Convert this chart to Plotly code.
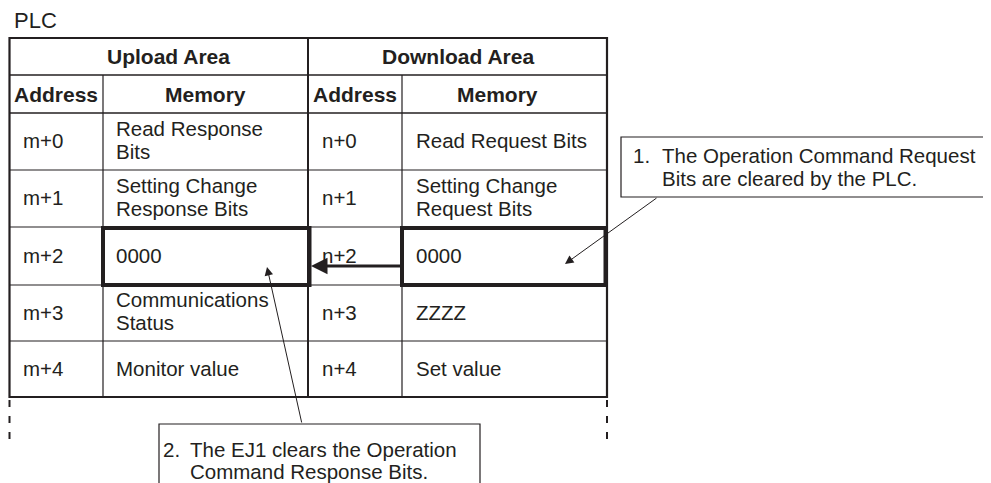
import plotly.graph_objects as go

# ---------------- data ----------------
title_text = "PLC"
area_headers = ["Upload Area", "Download Area"]
column_headers = ["Address", "Memory", "Address", "Memory"]
upload_addresses = ["m+0", "m+1", "m+2", "m+3", "m+4"]
upload_memory = [["Read Response", "Bits"], ["Setting Change", "Response Bits"],
                 ["0000"], ["Communications", "Status"], ["Monitor value"]]
download_addresses = ["n+0", "n+1", "n+2", "n+3", "n+4"]
download_memory = [["Read Request Bits"], ["Setting Change", "Request Bits"],
                   ["0000"], ["ZZZZ"], ["Set value"]]
highlight_row = 2
note1_lines = ["1.", "The Operation Command Request", "Bits are cleared by the PLC."]
note2_lines = ["2.", "The EJ1 clears the Operation", "Command Response Bits."]

# ---------------- layout constants ----------------
W, H = 991, 483
PAGE_OFFSET = 8  # default body margin of the html page
INK = "#231f20"
FONT = "Liberation Sans, Arial, Helvetica, sans-serif"
FS = 20.5
col_x = [9.5, 103, 308, 402, 607]
header_y = [38, 75, 113]
row_y = [113, 170, 227, 285, 341, 397]
text_x = [21, 114, 320, 414]

shapes = []
annotations = []


def line(x0, y0, x1, y1, w=1.2, dash=None):
    d = dict(type="line", xref="x", yref="y", x0=x0, y0=y0, x1=x1, y1=y1,
             line=dict(color=INK, width=w))
    if dash:
        d["line"]["dash"] = dash
    shapes.append(d)


def rect(x0, y0, x1, y1, w=1.2):
    shapes.append(dict(type="rect", xref="x", yref="y", x0=x0, y0=y0, x1=x1, y1=y1,
                       line=dict(color=INK, width=w), fillcolor="rgba(0,0,0,0)"))


def text(x, y, s, bold=False, anchor="left", size=FS):
    annotations.append(dict(x=x, y=y, xref="x", yref="y", text=("<b>%s</b>" % s) if bold else s,
                            showarrow=False, xanchor=anchor, yanchor="middle",
                            font=dict(family=FONT, size=size, color=INK)))


# title
text(12, 20.5, title_text, size=22)

# horizontal lines
line(col_x[0], header_y[1], col_x[4], header_y[1], 1.5)
line(col_x[0], header_y[2], col_x[4], header_y[2], 1.5)
for y in row_y[1:-1]:
    line(col_x[0], y, col_x[4], y, 1.2)
# vertical lines
line(col_x[1], header_y[1], col_x[1], row_y[-1], 1.2)
line(col_x[3], header_y[1], col_x[3], row_y[-1], 1.2)
line(col_x[2], header_y[0], col_x[2], row_y[-1], 2)
# outer border
rect(col_x[0], header_y[0], col_x[4], row_y[-1], 2.2)

# headers
hy = (header_y[0] + header_y[1]) / 2
text(168, hy, area_headers[0], bold=True, anchor="center", size=21)
text((col_x[2] + col_x[4]) / 2, hy, area_headers[1], bold=True, anchor="center", size=21)
sy = (header_y[1] + header_y[2]) / 2
for i, h in enumerate(column_headers):
    cx = (col_x[i] + col_x[i + 1]) / 2
    if i == 3:
        cx -= 7
    text(cx, sy, h, bold=True, anchor="center", size=21)

# cells
columns = [upload_addresses, upload_memory, download_addresses, download_memory]
for r in range(len(upload_addresses)):
    rc = (row_y[r] + row_y[r + 1]) / 2
    for c, col in enumerate(columns):
        val = col[r]
        lines = val if isinstance(val, list) else [val]
        if len(lines) == 1:
            text(text_x[c], rc - 1, lines[0])
        else:
            text(text_x[c], rc - 13.5, lines[0])
            text(text_x[c], rc + 9.5, lines[1])

# highlighted cells
y0, y1 = row_y[highlight_row] + 1, row_y[highlight_row + 1]
rect(col_x[1], y0, col_x[2] + 1.5, y1, 4)
rect(col_x[3], y0, col_x[4] - 1.5, y1, 4)

# dashed continuation lines
line(col_x[0], row_y[-1] + 3, col_x[0], 445, 2, dash="7px,9px")
line(col_x[4], row_y[-1] + 3, col_x[4], 445, 2, dash="7px,9px")

# note boxes
rect(621, 137, 989, 197, 1.2)
text(631, 155, note1_lines[0])
text(660, 155, note1_lines[1])
text(660, 178, note1_lines[2])

rect(159, 424, 480, 490, 1.2)
text(161, 449, note2_lines[0])
text(188, 449, note2_lines[1])
text(188, 471, note2_lines[2])

# arrows
annotations.append(dict(x=311, y=266, ax=col_x[3], ay=266, xref="x", yref="y", axref="x", ayref="y",
                        text="", showarrow=True, arrowhead=2, arrowsize=1.1, arrowwidth=3,
                        arrowcolor=INK, standoff=0))
annotations.append(dict(x=565, y=264, ax=658, ay=197, xref="x", yref="y", axref="x", ayref="y",
                        text="", showarrow=True, arrowhead=2, arrowsize=1.7, arrowwidth=1,
                        arrowcolor=INK, standoff=0))
annotations.append(dict(x=267, y=267, ax=302, ay=424, xref="x", yref="y", axref="x", ayref="y",
                        text="", showarrow=True, arrowhead=2, arrowsize=1.7, arrowwidth=1,
                        arrowcolor=INK, standoff=0))

fig = go.Figure()
fig.update_layout(
    width=W, height=H, margin=dict(l=0, r=0, t=0, b=0),
    paper_bgcolor="white", plot_bgcolor="white",
    xaxis=dict(range=[PAGE_OFFSET, W + PAGE_OFFSET], visible=False, fixedrange=True),
    yaxis=dict(range=[H + PAGE_OFFSET, PAGE_OFFSET], visible=False, fixedrange=True),
    shapes=shapes, annotations=annotations, showlegend=False,
)
fig.write_html("out.html")
